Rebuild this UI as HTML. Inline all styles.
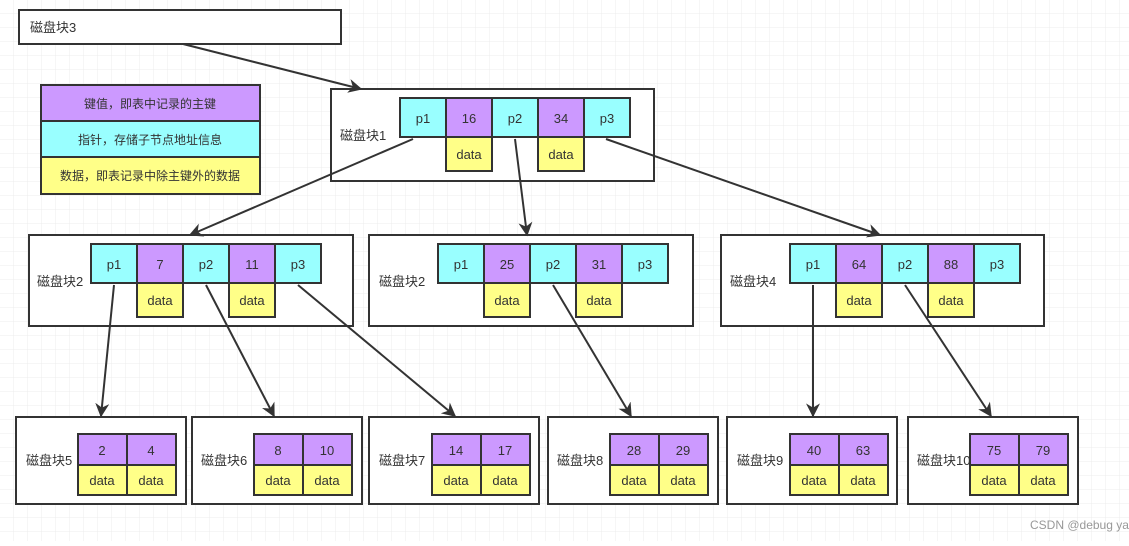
<!DOCTYPE html>
<html><head><meta charset="utf-8"><style>
body{margin:0;width:1129px;height:541px;overflow:hidden;background:#fff}
svg text{font-family:"Liberation Sans","Noto Sans CJK SC",sans-serif;font-size:13px;fill:#333}
</style></head><body>
<svg width="1129" height="541" xmlns="http://www.w3.org/2000/svg">
<defs>
<pattern id="g" width="14" height="14" patternUnits="userSpaceOnUse"><path d="M14 0V14H0" fill="none" stroke="#ececec" stroke-width="1"/></pattern>
<marker id="a" viewBox="0 0 10 10" refX="9" refY="5" markerWidth="7" markerHeight="7" orient="auto"><path d="M0 0L10 5L0 10L3 5z" fill="#333"/></marker>
</defs>
<rect width="1129" height="541" fill="url(#g)"/>
<g stroke="#333" stroke-width="2">
<rect x="19" y="10" width="322" height="34" fill="#fff"/>
<rect x="41" y="85" width="219" height="36" fill="#CC99FF"/>
<rect x="41" y="121" width="219" height="36" fill="#99FFFF"/>
<rect x="41" y="157" width="219" height="37" fill="#FFFF88"/>
<rect x="331" y="89" width="323" height="92" fill="#fff"/>
<rect x="29" y="235" width="324" height="91" fill="#fff"/>
<rect x="369" y="235" width="324" height="91" fill="#fff"/>
<rect x="721" y="235" width="323" height="91" fill="#fff"/>
<rect x="16" y="417" width="170" height="87" fill="#fff"/>
<rect x="192" y="417" width="170" height="87" fill="#fff"/>
<rect x="369" y="417" width="170" height="87" fill="#fff"/>
<rect x="548" y="417" width="170" height="87" fill="#fff"/>
<rect x="727" y="417" width="170" height="87" fill="#fff"/>
<rect x="908" y="417" width="170" height="87" fill="#fff"/>
</g>
<text x="30" y="32">磁盘块3</text>
<g text-anchor="middle" font-size="12">
<text x="150" y="108" style="font-size:12px">键值，即表中记录的主键</text>
<text x="150" y="144" style="font-size:12px">指针，存储子节点地址信息</text>
<text x="150" y="180" style="font-size:12px">数据，即表记录中除主键外的数据</text>
</g>
<g id="n1"></g>
<script>
var s=document.querySelector('svg'),NS='http://www.w3.org/2000/svg';
function r(x,y,w,h,f){var e=document.createElementNS(NS,'rect');e.setAttribute('x',x);e.setAttribute('y',y);e.setAttribute('width',w);e.setAttribute('height',h);e.setAttribute('fill',f);e.setAttribute('stroke','#333');e.setAttribute('stroke-width',2);s.appendChild(e);}
function t(x,y,v,a){var e=document.createElementNS(NS,'text');e.setAttribute('x',x);e.setAttribute('y',y);if(a)e.setAttribute('text-anchor','middle');e.textContent=v;s.appendChild(e);}
var C='#99FFFF',P='#CC99FF',Y='#FFFF88';
function inner(x0,y0,lx,label,k1,k2){
 var xs=[x0,x0+46,x0+92,x0+138,x0+184],lb=['p1',k1,'p2',k2,'p3'],f=[C,P,C,P,C];
 for(var i=0;i<5;i++){r(xs[i],y0,46,39,f[i]);t(xs[i]+23,y0+25,lb[i],1);}
 r(xs[1],y0+39,46,34,Y);t(xs[1]+23,y0+61,'data',1);
 r(xs[3],y0+39,46,34,Y);t(xs[3]+23,y0+61,'data',1);
 t(lx,y0+42,label);
}
inner(400,98,340,'磁盘块1','16','34');
inner(91,244,37,'磁盘块2','7','11');
inner(438,244,379,'磁盘块2','25','31');
inner(790,244,730,'磁盘块4','64','88');
function leaf(x0,lx,label,a,b){
 r(x0,434,49,31,P);r(x0+49,434,49,31,P);r(x0,465,49,30,Y);r(x0+49,465,49,30,Y);
 t(x0+24,455,a,1);t(x0+73,455,b,1);t(x0+24,485,'data',1);t(x0+73,485,'data',1);
 t(lx,465,label);
}
leaf(78,26,'磁盘块5','2','4');
leaf(254,201,'磁盘块6','8','10');
leaf(432,379,'磁盘块7','14','17');
leaf(610,557,'磁盘块8','28','29');
leaf(790,737,'磁盘块9','40','63');
leaf(970,917,'磁盘块10','75','79');
function ln(x1,y1,x2,y2){var e=document.createElementNS(NS,'line');e.setAttribute('x1',x1);e.setAttribute('y1',y1);e.setAttribute('x2',x2);e.setAttribute('y2',y2);e.setAttribute('stroke','#333');e.setAttribute('stroke-width',2);e.setAttribute('marker-end','url(#a)');s.appendChild(e);}
ln(183,44,361,89);
ln(413,139,190,235);ln(515,139,527,235);ln(606,139,880,235);
ln(114,285,101,416);ln(206,285,274,416);ln(298,285,455,416);
ln(553,285,631,416);ln(813,285,813,416);ln(905,285,991,416);
var w=document.createElementNS(NS,'text');w.setAttribute('x',1030);w.setAttribute('y',529);w.setAttribute('style','fill:#999;font-size:12px');w.textContent='CSDN @debug ya';s.appendChild(w);
</script>
</svg>
</body></html>
